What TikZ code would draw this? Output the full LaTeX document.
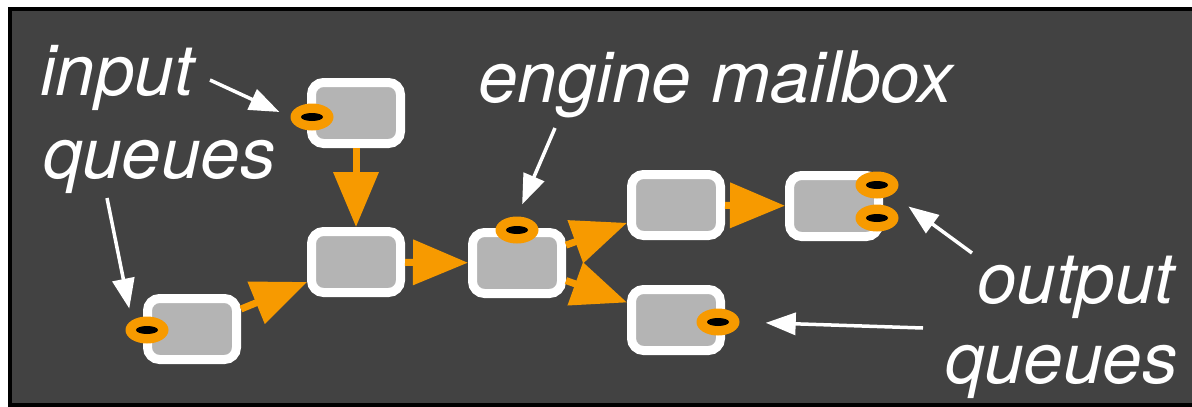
\documentclass[tikz,border=0pt]{standalone}
\usepackage{fontspec}
\setmainfont{TeX Gyre Heros}
\usetikzlibrary{arrows.meta,shapes.geometric}

\definecolor{panel}{HTML}{424242}
\definecolor{qorange}{HTML}{F79A00}
\definecolor{boxgray}{HTML}{B4B4B4}

\tikzstyle{note} = [font=\fontsize{71}{75}\selectfont\itshape,text=white,inner sep=0pt,anchor=base west]
\tikzstyle{stage} = [draw=white,line width=9pt,fill=boxgray,rounded corners=12pt,minimum width=89pt,minimum height=61pt,inner sep=0pt]
\tikzstyle{port} = [ellipse,fill=qorange,minimum width=43pt,minimum height=27pt,inner sep=0pt]
\tikzstyle{slot} = [ellipse,fill=black,minimum width=22pt,minimum height=8pt,inner sep=0pt]
\tikzstyle{flow} = [draw=qorange,line width=7pt,-{Triangle[width=44pt,length=55pt]}]
\tikzstyle{pointer} = [draw=white,line width=3.5pt,-{Triangle[width=22pt,length=30pt]}]

\begin{document}
\begin{tikzpicture}[x=1pt,y=-1pt]
      \useasboundingbox (0,0) rectangle (1192,407);
      \fill[white] (0,0) rectangle (1192,407);
      \fill[black] (8,7) rectangle (1192,407);
      \fill[panel] (12,11) rectangle (1192,403);

      %% stages
      \foreach \nodename/\x/\y in {
        inA/356/113, inB/192/329, join/356/262, engine/517/263,
        upper/676/205, lower/676/320, sink/834/206}
      {
        \node[stage] (\nodename) at (\x,\y) {};
      }

      % flows
      \path
      \foreach \startnode/\endnode in {
        inA/join, inB/join, join/engine, engine/upper, engine/lower, upper/sink}
      {
        (\startnode) edge[flow] (\endnode)
      };
      ;

      %% queues
      \foreach \nodename/\x/\y in {
        qa/312/117, qb/147/330, mbox/517/230, qf/718/322, qg/877/185, qh/877/218}
      {
        \node[port] (\nodename) at (\x,\y) {};
        \node[slot] (\nodename-s) at (\nodename) {};
      }

      %% texts
      \node[note] (input) at (40,95) {input};
      \node[note] (inqueues) at (43,178) {queues};
      \node[note] (mailbox) at (478,102) {engine mailbox};
      \node[note] (output) at (977,303) {output};
      \node[note] (outqueues) at (945,383) {queues};

      % pointers
      \coordinate (p1) at (210,80);
      \coordinate (p2) at (107,198);
      \coordinate (p3) at (555,128);
      \coordinate (p4) at (972,253);
      \coordinate (p5) at (923,328);
      \draw[pointer,shorten >=12pt] (p1) -- (qa.west);
      \draw[pointer,shorten >=12pt] (p2) -- (qb.north west);
      \draw[pointer,shorten >=13pt] (p3) -- (mbox.north);
      \draw[pointer,shorten >=20pt] (p4) -- (qg.south east);
      \draw[pointer,shorten >=26pt] (p5) -- (qf.east);
\end{tikzpicture}
\end{document}
